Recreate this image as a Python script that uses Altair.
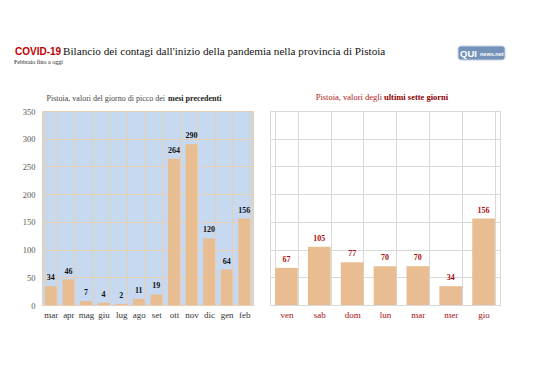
import altair as alt
import pandas as pd

# ---- data ----
months = ["mar", "apr", "mag", "giu", "lug", "ago", "set", "ott", "nov", "dic", "gen", "feb"]
peaks = [34, 46, 7, 4, 2, 11, 19, 264, 290, 120, 64, 156]
days = ["ven", "sab", "dom", "lun", "mar", "mer", "gio"]
daily = [67, 105, 77, 70, 70, 34, 156]
y_ticks = [0, 50, 100, 150, 200, 250, 300, 350]

title_red = ["COVID-19"]
title_main = ["Bilancio dei contagi dall'inizio della pandemia nella provincia di Pistoia"]
subtitle = ["Febbraio fino a oggi"]
left_title_a = ["Pistoia, valori del giorno di picco dei"]
left_title_b = ["mesi precedenti"]
right_title_a = ["Pistoia, valori degli"]
right_title_b = ["ultimi sette giorni"]
logo_a = ["QUI"]
logo_b = ["news.net"]

SERIF = "Liberation Serif"
SANS = "Liberation Sans"
BAR = "#e8bd91"
DARKRED = "#a80c0c"
LGRID = "#e9cfb2"

left_df = pd.DataFrame({"mese": months, "valore": peaks})
right_df = pd.DataFrame({"giorno": days, "valore": daily})


def txt(values, **kw):
    return alt.Chart(pd.DataFrame({"t": values})).mark_text(**kw)


ydom = alt.Scale(domain=[0, 350])

# ---- left panel ----
lx = alt.X("mese:N", sort=months,
           scale=alt.Scale(paddingInner=0.335, paddingOuter=0.1675),
           axis=alt.Axis(title=None, labelAngle=0, ticks=False, domain=False,
                         grid=True, gridColor=LGRID, tickBand="extent",
                         labelFont=SERIF, labelFontSize=9, labelColor="#333333",
                         labelPadding=5))
ly = alt.Y("valore:Q", scale=ydom,
           axis=alt.Axis(title=None, values=y_ticks, ticks=False, domain=False,
                         grid=True, gridColor=LGRID,
                         labelFont=SERIF, labelFontSize=8.5, labelColor="#555555",
                         labelPadding=7))
lbase = alt.Chart(left_df)
lbars = lbase.mark_bar(color=BAR).encode(x=lx, y=ly)
llabels = lbase.mark_text(font=SERIF, fontSize=8, fontWeight="bold", color="#111111",
                          baseline="bottom", dy=-4).encode(x=lx, y=ly, text="valore:Q")

t1 = txt(title_red, font=SANS, fontSize=10, fontWeight="bold", color="#c00000",
         align="left", baseline="alphabetic").encode(x=alt.value(-27), y=alt.value(-56), text="t:N")
t2 = txt(title_main, font=SERIF, fontSize=11.2, color="#111111",
         align="left", baseline="alphabetic").encode(x=alt.value(21), y=alt.value(-56), text="t:N")
t3 = txt(subtitle, font=SERIF, fontSize=6, color="#222222",
         align="left", baseline="alphabetic").encode(x=alt.value(-28), y=alt.value(-47), text="t:N")
t4 = txt(left_title_a, font=SERIF, fontSize=8, color="#444444",
         align="right", baseline="alphabetic").encode(x=alt.value(123), y=alt.value(-10), text="t:N")
t5 = txt(left_title_b, font=SERIF, fontSize=8, fontWeight="bold", color="#222222",
         align="left", baseline="alphabetic").encode(x=alt.value(126), y=alt.value(-10), text="t:N")

left = alt.layer(lbars, llabels, t1, t2, t3, t4, t5).properties(
    width=211, height=194,
    view=alt.ViewBackground(fill="#c6d9f1", stroke=LGRID))

# ---- right panel ----
rx = alt.X("giorno:N", sort=days,
           scale=alt.Scale(paddingInner=0.31, paddingOuter=0.155),
           axis=alt.Axis(title=None, labelAngle=0, ticks=False, domain=False,
                         grid=True, gridColor="#d9d9d9", tickBand="extent",
                         labelFont=SERIF, labelFontSize=9, labelColor=DARKRED,
                         labelPadding=5))
ry = alt.Y("valore:Q", scale=ydom,
           axis=alt.Axis(title=None, values=y_ticks, ticks=False, domain=False,
                         labels=False, grid=True, gridColor="#d9d9d9"))
rbase = alt.Chart(right_df)
rbars = rbase.mark_bar(color=BAR).encode(x=rx, y=ry)
rlabels = rbase.mark_text(font=SERIF, fontSize=8, fontWeight="bold", color=DARKRED,
                          baseline="bottom", dy=-4).encode(x=rx, y=ry, text="valore:Q")

r1 = txt(right_title_a, font=SERIF, fontSize=8.5, color="#b01515",
         align="right", baseline="alphabetic").encode(x=alt.value(112), y=alt.value(-11), text="t:N")
r2 = txt(right_title_b, font=SERIF, fontSize=8.5, fontWeight="bold", color="#8c0000",
         align="left", baseline="alphabetic").encode(x=alt.value(114), y=alt.value(-11), text="t:N")
logo_rect = alt.Chart(pd.DataFrame({"t": logo_a})).mark_rect(
    color="#7593b8", cornerRadius=3, stroke="#c7d3e3", strokeWidth=1).encode(
    x=alt.value(188), x2=alt.value(235), y=alt.value(-65), y2=alt.value(-51))
logo1 = txt(logo_a, font=SANS, fontSize=9.5, fontWeight="bold", color="white",
            align="left", baseline="alphabetic").encode(x=alt.value(190), y=alt.value(-54), text="t:N")
logo2 = txt(logo_b, font=SANS, fontSize=5.5, fontWeight="bold", color="white",
            align="left", baseline="alphabetic").encode(x=alt.value(210), y=alt.value(-55), text="t:N")

right = alt.layer(rbars, rlabels, r1, r2, logo_rect, logo1, logo2).properties(
    width=230, height=194,
    view=alt.ViewBackground(fill="white", stroke="#d9d9d9"))

chart = alt.hconcat(left, right, spacing=17, bounds="flush").properties(
    padding={"left": 5, "top": 37, "right": 5, "bottom": 5},
    background="white")

chart.save("out.html", embed_options={"renderer": "svg", "actions": False})
